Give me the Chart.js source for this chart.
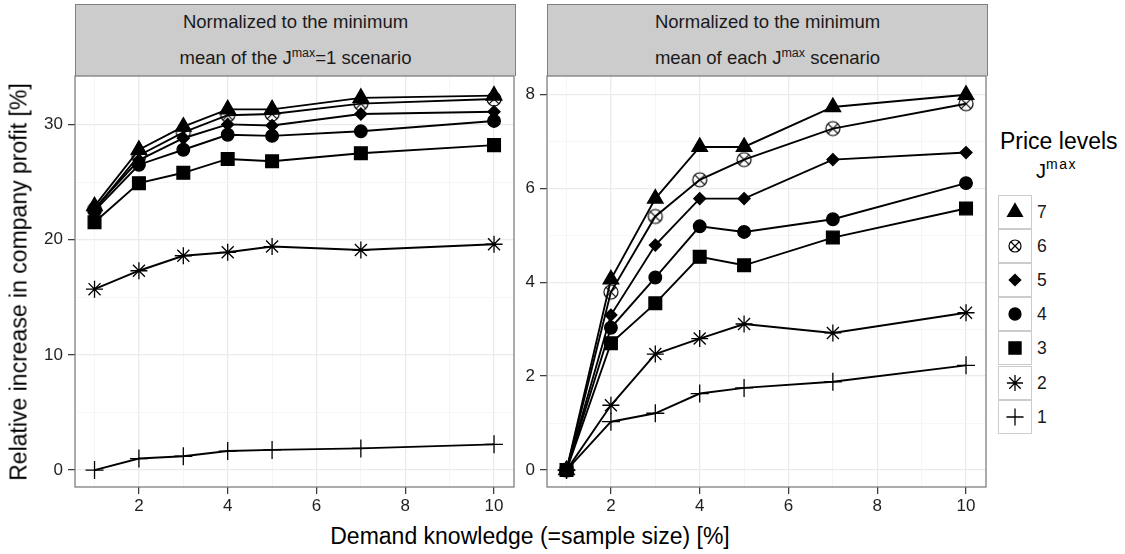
<!DOCTYPE html>
<html>
<head>
<meta charset="UTF-8">
<title>Relative increase in company profit</title>
<script src="https://cdn.jsdelivr.net/npm/chart.js"></script>
<style>
  body { margin: 0; width: 1125px; height: 554px; background: #fff; position: relative; overflow: hidden;
         font-family: "Liberation Sans", Arial, Helvetica, sans-serif; }
  canvas { position: absolute; }
  .strip { position: absolute; top: 4px; width: 439px; height: 71px; background: #cccccc;
           border: 1px solid #7f7f7f; border-bottom: none; color: #1a1a1a; font-size: 18.5px; text-align: center; }
  .strip div { line-height: 36px; }
  .strip div:first-child { margin-top: -1px; }
  .strip sup, .leg-sup { font-size: 12.5px; vertical-align: 7px; line-height: 0; }
  .ytitle { position: absolute; left: 19px; top: 282px; transform: translate(-50%, -50%) rotate(-90deg);
            font-size: 23px; white-space: nowrap; color: #000; }
  .xtitle { position: absolute; left: 530px; top: 536px; transform: translate(-50%, -50%);
            font-size: 23px; white-space: nowrap; color: #000; }
  .legtitle { position: absolute; left: 1000px; top: 128px; font-size: 23px; color: #000; white-space: nowrap; }
  .legsub { position: absolute; left: 1036px; top: 160px; font-size: 20px; color: #000; white-space: nowrap; }
  .legsub .leg-sup { font-size: 14px; letter-spacing: 1.5px; vertical-align: 9px; }
  .key { position: absolute; left: 998px; width: 32px; height: 32px; border: 1px solid #cccccc; background: #fff; }
  .key canvas { position: static; display: block; }
  .keylab { position: absolute; left: 1037px; font-size: 17.5px; color: #1a1a1a; line-height: 34px; }
</style>
</head>
<body>
  <div class="strip" style="left:75px"><div>Normalized to the minimum</div><div>mean of the J<sup>max</sup>=1 scenario</div></div>
  <div class="strip" style="left:547px"><div>Normalized to the minimum</div><div>mean of each J<sup>max</sup> scenario</div></div>
  <canvas id="left" width="520" height="450" style="left:0px; top:70px"></canvas>
  <canvas id="right" width="472" height="450" style="left:520px; top:70px"></canvas>
  <div class="ytitle">Relative increase in company profit [%]</div>
  <div class="xtitle">Demand knowledge (=sample size) [%]</div>
  <div class="legtitle">Price levels</div>
  <div class="legsub">J<span class="leg-sup">max</span></div>
  <div id="legend"></div>

<script>
// demand knowledge (sample size, %)
const demand = [1, 2, 3, 4, 5, 7, 10];
const levels = ['7', '6', '5', '4', '3', '2', '1'];

// normalized to the minimum mean of the Jmax=1 scenario
const leftJ7 = [22.9, 27.8, 29.8, 31.3, 31.3, 32.3, 32.5];
const leftJ6 = [22.6, 27.3, 29.3, 30.8, 30.9, 31.8, 32.2];
const leftJ5 = [22.7, 26.9, 28.8, 30.0, 29.9, 30.9, 31.1];
const leftJ4 = [22.5, 26.5, 27.8, 29.1, 29.0, 29.4, 30.3];
const leftJ3 = [21.5, 24.9, 25.8, 27.0, 26.8, 27.5, 28.2];
const leftJ2 = [15.7, 17.3, 18.6, 18.9, 19.4, 19.1, 19.6];
const leftJ1 = [0, 1.0, 1.2, 1.65, 1.75, 1.88, 2.23];

// normalized to the minimum mean of each Jmax scenario
const rightJ7 = [0, 4.06, 5.78, 6.88, 6.88, 7.73, 7.99];
const rightJ6 = [0, 3.79, 5.40, 6.18, 6.61, 7.27, 7.80];
const rightJ5 = [0, 3.30, 4.79, 5.78, 5.78, 6.61, 6.76];
const rightJ4 = [0, 3.03, 4.10, 5.19, 5.07, 5.34, 6.11];
const rightJ3 = [0, 2.70, 3.55, 4.54, 4.36, 4.95, 5.57];
const rightJ2 = [0, 1.38, 2.47, 2.80, 3.11, 2.92, 3.35];
const rightJ1 = [0, 1.03, 1.21, 1.63, 1.75, 1.88, 2.23];

// axis ticks
const xTicks = [2, 4, 6, 8, 10];
const xMinor = [1, 3, 5, 7, 9];
const leftYTicks = [0, 10, 20, 30];
const leftYMinor = [5, 15, 25];
const rightYTicks = [0, 2, 4, 6, 8];
const rightYMinor = [1, 3, 5, 7];

// circle with an x inside (shape 13)
function circleCross(size, r) {
  const c = document.createElement('canvas');
  c.width = size; c.height = size;
  const g = c.getContext('2d');
  const m = size / 2, d = r * Math.SQRT1_2;
  g.strokeStyle = '#000'; g.lineWidth = 1.2;
  g.beginPath(); g.arc(m, m, r, 0, Math.PI * 2); g.stroke();
  g.beginPath();
  g.moveTo(m - d, m - d); g.lineTo(m + d, m + d);
  g.moveTo(m + d, m - d); g.lineTo(m - d, m + d);
  g.stroke();
  return c;
}

const marks = {
  '7': { style: 'triangle', r: 9 },
  '6': { style: circleCross(18, 7), r: 7 },
  '5': { style: 'rectRot', r: 6 },
  '4': { style: 'circle', r: 6.3 },
  '3': { style: 'rect', r: 9 },
  '2': { style: 'star', r: 8.5 },
  '1': { style: 'cross', r: 9 }
};

function makeDatasets(series) {
  return levels.map((lv, i) => ({
    label: lv,
    data: demand.map((x, k) => ({ x: x, y: series[i][k] })),
    borderColor: '#000',
    borderWidth: 1.9,
    pointStyle: marks[lv].style,
    pointRadius: marks[lv].r,
    pointBackgroundColor: '#000',
    pointBorderColor: '#000',
    pointBorderWidth: 1.3,
    tension: 0,
    fill: false
  }));
}

const panelBorder = {
  id: 'panelBorder',
  afterDraw(chart) {
    const a = chart.chartArea, ctx = chart.ctx;
    ctx.save();
    ctx.strokeStyle = '#7f7f7f';
    ctx.lineWidth = 1.3;
    ctx.strokeRect(a.left, a.top, a.right - a.left, a.bottom - a.top);
    ctx.restore();
  }
};

function axis(major, minor, min, max, size, horizontal) {
  return {
    type: 'linear',
    min: min, max: max,
    bounds: 'data',
    afterBuildTicks: s => { s.ticks = major.concat(minor).sort((a, b) => a - b).map(v => ({ value: v })); },
    afterFit: s => {
      if (horizontal) s.height = size; else s.width = size;
      s.paddingTop = 0; s.paddingBottom = 0; s.paddingLeft = 0; s.paddingRight = 0;
    },
    border: { display: false },
    grid: {
      color: c => major.includes(c.tick.value) ? '#ebebeb' : '#f4f4f4',
      lineWidth: c => major.includes(c.tick.value) ? 1.3 : 0.8,
      tickColor: c => major.includes(c.tick.value) ? '#333333' : 'rgba(0,0,0,0)',
      tickLength: 7,
      tickWidth: 1.2
    },
    ticks: {
      autoSkip: false,
      maxRotation: 0,
      padding: horizontal ? 2 : 5,
      color: '#1f1f1f',
      font: { family: '"Liberation Sans", Arial, sans-serif', size: 17 },
      callback: v => major.includes(v) ? String(v) : ''
    }
  };
}

function panel(id, series, yMajor, yMinor, yMin, yMax, yWidth) {
  new Chart(document.getElementById(id), {
    type: 'line',
    data: { datasets: makeDatasets(series) },
    options: {
      responsive: false,
      animation: false,
      devicePixelRatio: 1,
      layout: { autoPadding: false, padding: { top: 6, right: 6, left: 0, bottom: 0 } },
      plugins: { legend: { display: false }, tooltip: { enabled: false } },
      scales: {
        x: axis(xTicks, xMinor, 0.56, 10.45, 33, true),
        y: axis(yMajor, yMinor, yMin, yMax, yWidth, false)
      }
    },
    plugins: [panelBorder]
  });
}

panel('left', [leftJ7, leftJ6, leftJ5, leftJ4, leftJ3, leftJ2, leftJ1], leftYTicks, leftYMinor, -1.47, 34.2, 75);
panel('right', [rightJ7, rightJ6, rightJ5, rightJ4, rightJ3, rightJ2, rightJ1], rightYTicks, rightYMinor, -0.36, 8.39, 27);

// legend keys
const legend = document.getElementById('legend');
levels.forEach((lv, i) => {
  const top = 195 + i * 34.1;
  const key = document.createElement('div');
  key.className = 'key';
  key.style.top = top + 'px';
  const c = document.createElement('canvas');
  c.width = 32; c.height = 32;
  key.appendChild(c);
  legend.appendChild(key);
  const g = c.getContext('2d');
  g.fillStyle = '#000'; g.strokeStyle = '#000'; g.lineWidth = 1.3;
  const m = marks[lv];
  const r = lv === '6' ? m.r : m.r * 0.95;
  if (Chart.helpers && Chart.helpers.drawPoint) {
    Chart.helpers.drawPoint(g, { pointStyle: lv === '6' ? circleCross(16, 6) : m.style, radius: r, rotation: 0, borderWidth: 1.3 }, 16, 16);
  }
  const lab = document.createElement('div');
  lab.className = 'keylab';
  lab.style.top = top + 'px';
  lab.textContent = lv;
  legend.appendChild(lab);
});
</script>
</body>
</html>
